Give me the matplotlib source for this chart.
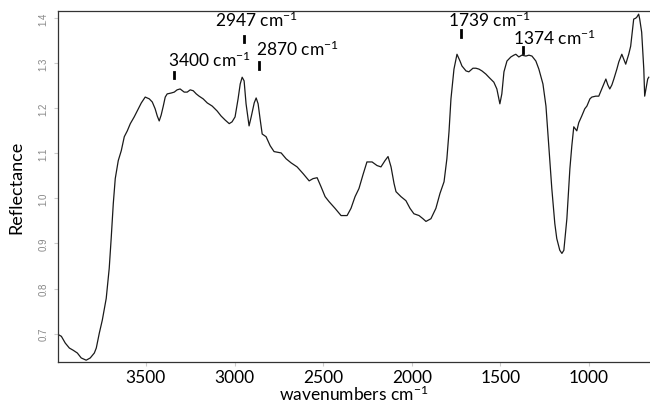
import matplotlib
matplotlib.use('Agg')
import matplotlib.pyplot as plt

plt.rcParams['font.family'] = ['Lato', 'DejaVu Sans']
plt.rcParams['mathtext.fontset'] = 'custom'
plt.rcParams['mathtext.rm'] = 'Lato'
plt.rcParams['mathtext.it'] = 'Lato'

# Spectrum
wavenumber = [
    4000, 3977, 3955, 3932, 3910, 3887, 3865, 3837, 3814, 3791, 3780, 3763, 3746, 3724,
    3707, 3696, 3684, 3673, 3656, 3639, 3622, 3605, 3588, 3566, 3549, 3526, 3504, 3481,
    3464, 3448, 3436, 3425, 3414, 3402, 3391, 3380, 3357, 3340, 3324, 3307, 3284, 3267,
    3250, 3233, 3216, 3200, 3177, 3154, 3126, 3098, 3076, 3053, 3030, 3014, 2997, 2980,
    2968, 2957, 2946, 2935, 2918, 2906, 2889, 2878, 2867, 2856, 2844, 2822, 2799, 2777,
    2737, 2709, 2681, 2647, 2613, 2579, 2557, 2534, 2512, 2489, 2467, 2433, 2399, 2365,
    2343, 2320, 2298, 2275, 2253, 2224, 2196, 2174, 2151, 2134, 2117, 2100, 2089, 2061,
    2033, 2010, 1988, 1959, 1937, 1920, 1892, 1864, 1841, 1818, 1802, 1790, 1779, 1762,
    1745, 1728, 1717, 1694, 1678, 1655, 1638, 1621, 1604, 1582, 1565, 1537, 1520, 1503,
    1492, 1480, 1463, 1441, 1424, 1413, 1396, 1379, 1356, 1339, 1322, 1300, 1283, 1260,
    1243, 1227, 1210, 1193, 1182, 1165, 1153, 1142, 1125, 1108, 1097, 1086, 1069, 1058,
    1041, 1024, 1012, 995, 984, 962, 945, 928, 905, 894, 883, 871, 860, 843,
    832, 815, 804, 793, 776, 765, 753, 748, 737, 731, 720, 714, 703, 691,
    686, 674, 669, 663,
]
reflectance = [
    0.699, 0.694, 0.679, 0.668, 0.663, 0.657, 0.646, 0.641, 0.646, 0.657, 0.668, 0.701, 0.730, 0.778,
    0.845, 0.911, 0.989, 1.044, 1.084, 1.106, 1.137, 1.150, 1.166, 1.181, 1.194, 1.212, 1.225, 1.221,
    1.214, 1.199, 1.183, 1.172, 1.185, 1.205, 1.225, 1.232, 1.234, 1.236, 1.241, 1.243, 1.236, 1.236,
    1.241, 1.239, 1.232, 1.227, 1.221, 1.212, 1.205, 1.194, 1.183, 1.174, 1.166, 1.170, 1.181, 1.221,
    1.254, 1.269, 1.261, 1.210, 1.161, 1.181, 1.212, 1.223, 1.210, 1.177, 1.143, 1.137, 1.117, 1.104,
    1.101, 1.088, 1.079, 1.070, 1.055, 1.039, 1.044, 1.046, 1.026, 1.004, 0.993, 0.978, 0.962, 0.962,
    0.978, 1.004, 1.022, 1.053, 1.081, 1.081, 1.073, 1.070, 1.084, 1.093, 1.070, 1.033, 1.015, 1.004,
    0.995, 0.978, 0.966, 0.962, 0.955, 0.949, 0.955, 0.978, 1.011, 1.037, 1.088, 1.148, 1.221, 1.287,
    1.320, 1.305, 1.294, 1.283, 1.281, 1.289, 1.289, 1.287, 1.283, 1.276, 1.269, 1.258, 1.243, 1.210,
    1.232, 1.281, 1.305, 1.314, 1.318, 1.320, 1.314, 1.318, 1.316, 1.318, 1.316, 1.305, 1.287, 1.254,
    1.205, 1.117, 1.022, 0.944, 0.911, 0.885, 0.878, 0.885, 0.955, 1.066, 1.117, 1.159, 1.150, 1.168,
    1.183, 1.199, 1.205, 1.221, 1.225, 1.227, 1.227, 1.243, 1.265, 1.252, 1.243, 1.252, 1.265, 1.287,
    1.303, 1.320, 1.309, 1.298, 1.320, 1.338, 1.380, 1.398, 1.400, 1.402, 1.409, 1.398, 1.369, 1.287,
    1.227, 1.254, 1.265, 1.269,
]

# Peak annotations: label, mark position, mark height, text anchor (left, baseline)
peak_labels = ['3400', '2947', '2870', '1739', '1374']
mark_x = [3344, 2947, 2862, 1723, 1374]
mark_y = [1.274, 1.354, 1.295, 1.366, 1.330]
text_x = [3374, 3109, 2878, 1796, 1430]
text_y = [1.294, 1.382, 1.318, 1.382, 1.342]

x_ticks = [3500, 3000, 2500, 2000, 1500, 1000]
y_ticks = [0.7, 0.8, 0.9, 1.0, 1.1, 1.2, 1.3, 1.4]

fig = plt.figure(figsize=(6.5, 4.06), dpi=100)
ax = fig.add_axes([58 / 650, 43 / 406, 1 - 58 / 650, 351 / 406])

ax.plot(wavenumber, reflectance, color='#1a1a1a', lw=0.9)

for lab, mx, my, tx, ty in zip(peak_labels, mark_x, mark_y, text_x, text_y):
    ax.plot([mx, mx], [my - 0.007, my + 0.007], color='black', lw=2)
    ax.text(tx, ty, lab + r' cm$^{\mathregular{-1}}$', fontsize=12.5, ha='left', va='baseline')

ax.set_xlim(3996, 656)
ax.set_ylim(0.637, 1.416)
ax.set_xticks(x_ticks)
ax.set_xticklabels([str(t) for t in x_ticks], fontsize=12.5)
ax.set_yticks(y_ticks)
ax.set_yticklabels([f'{t:.1f}' for t in y_ticks], fontsize=7, color='#888888',
                   rotation=90, va='center', family='Liberation Sans')
ax.tick_params(axis='x', length=3, color='#cccccc', pad=2)
ax.tick_params(axis='y', length=3, color='#cccccc', pad=4)

ax.spines['right'].set_visible(False)
for s in ['left', 'bottom', 'top']:
    ax.spines[s].set_color('#333333')
    ax.spines[s].set_linewidth(0.9)

ax.set_xlabel(r'wavenumbers cm$^{\mathregular{-1}}$', fontsize=12.5, labelpad=-1)
ax.set_ylabel('Reflectance', fontsize=13, labelpad=10)

plt.savefig('out.png', dpi=100)
plt.close()
